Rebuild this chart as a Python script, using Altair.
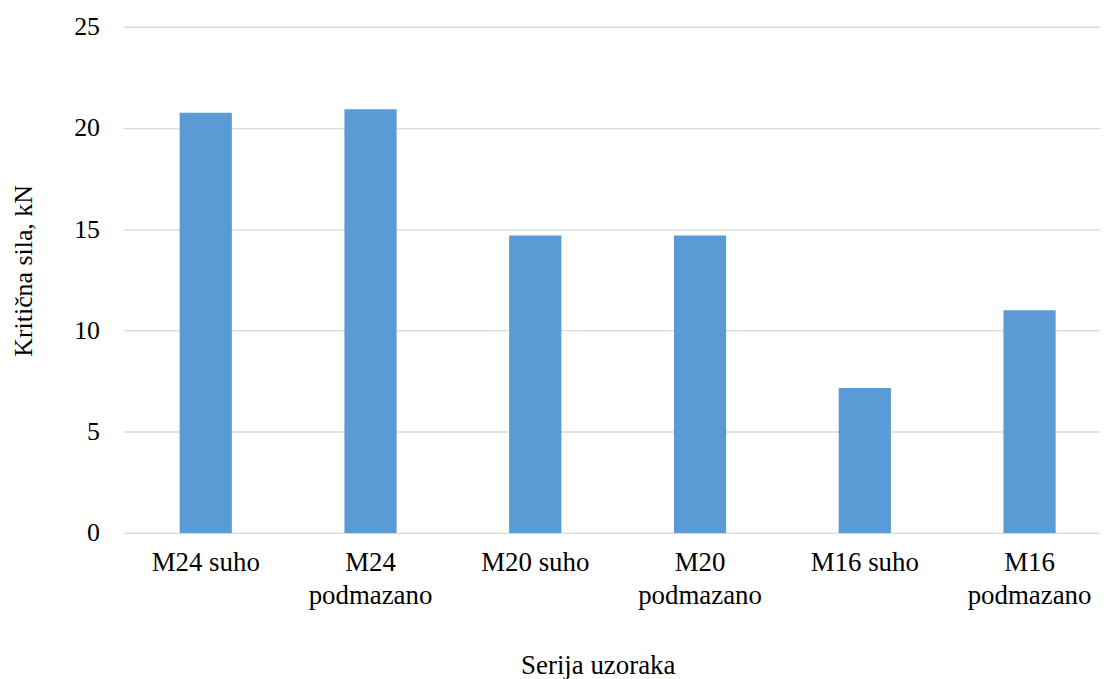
import altair as alt
import pandas as pd

categories = ["M24 suho", "M24 podmazano", "M20 suho", "M20 podmazano", "M16 suho", "M16 podmazano"]
values = [20.75, 20.92, 14.69, 14.69, 7.16, 11.0]
y_ticks = [0, 5, 10, 15, 20, 25]

df = pd.DataFrame({"serija": categories, "sila": values})

FONT = "Liberation Serif"

chart = alt.Chart(df).mark_bar(size=52.5, color="#5B9BD5").encode(
    x=alt.X(
        "serija:N",
        sort=categories,
        scale=alt.Scale(paddingInner=0, paddingOuter=0),
        axis=alt.Axis(
            title="Serija uzoraka",
            labelAngle=0,
            labelFontSize=27,
            labelFont=FONT,
            labelColor="#000000",
            labelPadding=17,
            labelLineHeight=33,
            labelBaseline="top",
            labelExpr="indexof(datum.label,'podmazano')>=0 ? split(datum.label,' ') : datum.label",
            ticks=False,
            domain=False,
            grid=False,
            titleFont=FONT,
            titleFontSize=27,
            titleFontWeight="normal",
            titleColor="#000000",
            titleX=477,
            titleY=141,
            titleAlign="center",
            titleBaseline="alphabetic",
        ),
    ),
    y=alt.Y(
        "sila:Q",
        scale=alt.Scale(domain=[0, 25], nice=False),
        axis=alt.Axis(
            title="Kritična sila, kN",
            values=y_ticks,
            labelFontSize=26,
            labelFont=FONT,
            labelColor="#000000",
            labelPadding=24,
            ticks=False,
            domain=False,
            grid=True,
            gridColor="#D9D9D9",
            gridWidth=1.3,
            titleFont=FONT,
            titleFontSize=26,
            titleFontWeight="normal",
            titleColor="#000000",
            titleAngle=-90,
            titleX=-100,
            titleY=245,
            titleAlign="center",
            titleBaseline="middle",
        ),
    ),
).properties(
    width=994,
    height=509,
    autosize=alt.AutoSizeParams(type="none"),
    padding={"left": 116, "top": 17, "right": -12, "bottom": 145},
).configure_view(stroke=None)

chart.save("out.html", embed_options={"renderer": "svg", "actions": False})
